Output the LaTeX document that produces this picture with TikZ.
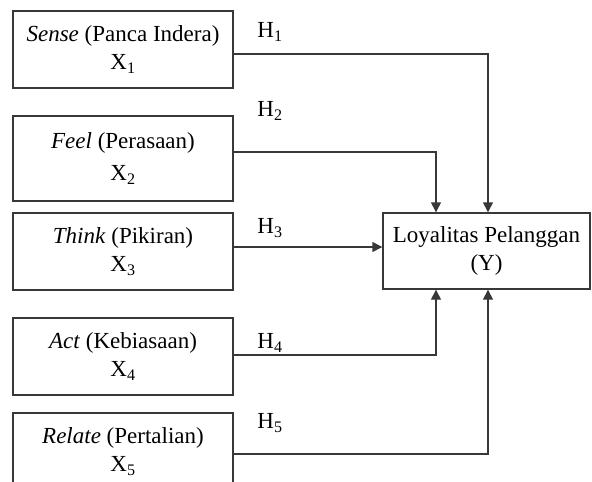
\documentclass[tikz,border=0pt]{standalone}
\usepackage{fontspec}
\setmainfont{Liberation Serif}
\usetikzlibrary{arrows.meta}
\definecolor{linec}{HTML}{383838}
\tikzset{
  box/.style={draw=linec, line width=1.4pt, minimum width=220pt, minimum height=77pt, align=center, inner sep=0pt, font=\fontsize{23}{28}\selectfont},
  lbl/.style={inner sep=0pt, font=\fontsize{23}{28}\selectfont},
  conn/.style={draw=linec, line width=1.4pt},
  arr/.style={conn, -{Triangle[width=10pt,length=10pt]}}
}
\begin{document}
\begin{tikzpicture}[x=1pt,y=-1pt]
\useasboundingbox (0,0) rectangle (592,482);
\clip (0,0) rectangle (592,482);
\fill[white] (0,0) rectangle (592,482);
\node[box] (b1) at (123,49.5) {\textit{Sense} (Panca Indera)\\X\textsubscript{1}};
\node[box, minimum height=85pt] (b2) at (123,158.5) {\textit{Feel} (Perasaan)\\[4pt]X\textsubscript{2}};
\node[box] (b3) at (123,251.5) {\textit{Think} (Pikiran)\\X\textsubscript{3}};
\node[box] (b4) at (123,356.5) {\textit{Act} (Kebiasaan)\\X\textsubscript{4}};
\node[box] (b5) at (123,451.5) {\textit{Relate} (Pertalian)\\X\textsubscript{5}};
\node[box, minimum width=207pt, minimum height=76pt] (Y) at (486.5,251) {Loyalitas Pelanggan\\(Y)};
\node[lbl] (h1) at (270,32) {H\textsubscript{1}};
\node[lbl] (h2) at (270,111) {H\textsubscript{2}};
\node[lbl] (h3) at (270,228) {H\textsubscript{3}};
\node[lbl] (h4) at (270,343) {H\textsubscript{4}};
\node[lbl] (h5) at (270,423) {H\textsubscript{5}};
\draw[arr] ([yshift=-4.5pt]b1.east) -| ([xshift=1.5pt]Y.north);
\draw[arr] ([yshift=6.5pt]b2.east) -| ([xshift=-50.5pt]Y.north);
\draw[arr] ([yshift=4.5pt]b3.east) -- ([yshift=4.5pt]b3.east -| Y.west);
\draw[arr] ([yshift=1.5pt]b4.east) -| ([xshift=-50.5pt]Y.south);
\draw[arr] ([yshift=-2.5pt]b5.east) -| ([xshift=1.5pt]Y.south);
\end{tikzpicture}
\end{document}
